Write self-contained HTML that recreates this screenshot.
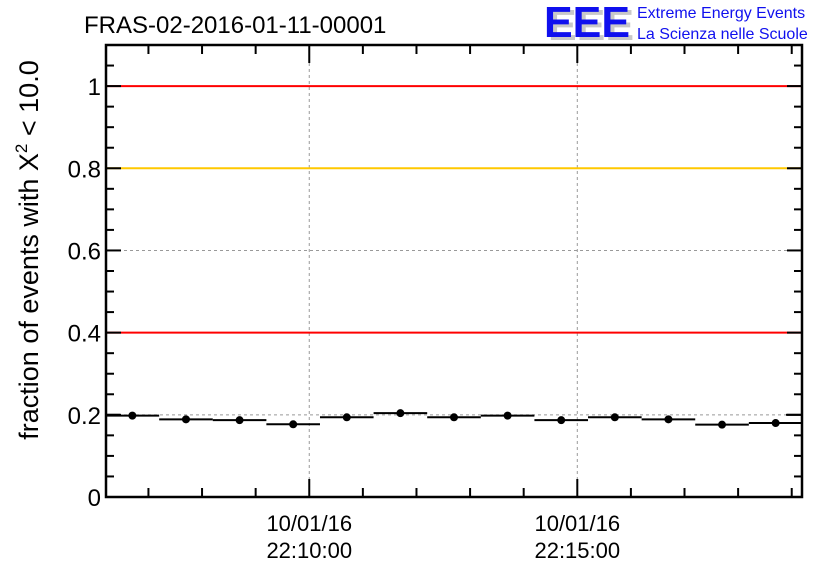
<!DOCTYPE html>
<html><head><meta charset="utf-8"><style>
body{margin:0;background:#fff;}
svg{display:block;font-family:"Liberation Sans",sans-serif;}
</style></head><body>
<svg id="chart" width="836" height="572" viewBox="0 0 836 572" xmlns="http://www.w3.org/2000/svg">
<text x="84" y="33" font-size="24" fill="#000">FRAS-02-2016-01-11-00001</text>
<g>
<text x="548" y="40" font-size="44" font-weight="bold" fill="#c8c8c8" textLength="86" lengthAdjust="spacingAndGlyphs">EEE</text>
<text x="544" y="37" font-size="44" font-weight="bold" fill="#1010ee" textLength="86" lengthAdjust="spacingAndGlyphs">EEE</text>
<text x="637" y="18" font-size="16" fill="#1010ee">Extreme Energy Events</text>
<text x="637" y="39" font-size="16" fill="#1010ee">La Scienza nelle Scuole</text>
</g>
<text transform="translate(38,250) rotate(-90)" text-anchor="middle" font-size="27" fill="#000">fraction of events with X<tspan font-size="17" dy="-11">2</tspan><tspan dy="11"> &lt; 10.0</tspan></text>
<g id="plot"></g>
</svg>
<script>
const binCentersSec = [-198,-138,-78,-18,42,102,162,222,282,342,402,462,522];
const fractions = [0.198,0.189,0.187,0.177,0.194,0.204,0.194,0.198,0.187,0.194,0.189,0.176,0.180];
const errors = [0.005,0.005,0.005,0.005,0.005,0.005,0.005,0.005,0.005,0.005,0.005,0.005,0.005];
const yTickLabels = ["0","0.2","0.4","0.6","0.8","1"];
const yTickValues = [0,0.2,0.4,0.6,0.8,1];
const xMajorSec = [0,300];
const xMajorLabels = [["10/01/16","22:10:00"],["10/01/16","22:15:00"]];
const refLines = [{v:1,c:"#ff0000"},{v:0.8,c:"#ffc800"},{v:0.4,c:"#ff0000"}];

const L=106,R=802,T=45,B=497;
const xMin=-227.5,xMax=551.5,yMin=0,yMax=1.1;
const xs=s=>L+(s-xMin)/(xMax-xMin)*(R-L);
const ys=v=>B-(v-yMin)/(yMax-yMin)*(B-T);
const NS="http://www.w3.org/2000/svg";
const g=document.getElementById('plot');
function el(t,a,p){const e=document.createElementNS(NS,t);for(const k in a)e.setAttribute(k,a[k]);(p||g).appendChild(e);return e;}

for(const s of xMajorSec){
  const l=el('line',{x1:xs(s),x2:xs(s),y1:T,y2:B,stroke:'#999','stroke-dasharray':'3,3','stroke-width':1});
  
  
}
for(const v of [0.2,0.6]){
  const l=el('line',{x1:L,x2:R,y1:ys(v),y2:ys(v),stroke:'#999','stroke-dasharray':'3,3','stroke-width':1});
  
  
}
for(const r of refLines){
  const l=el('line',{x1:L,x2:R,y1:ys(r.v),y2:ys(r.v),stroke:r.c,'stroke-width':2});
  
  
}
for(let i=0;i<fractions.length;i++){
  const c=binCentersSec[i],v=fractions[i];
  const x1=Math.max(L,xs(c-30)),x2=Math.min(R,xs(c+30));
  const seg=el('line',{x1:x1,x2:x2,y1:ys(v),y2:ys(v),stroke:'#000','stroke-width':2});
  
  
  const eb=el('line',{x1:xs(c),x2:xs(c),y1:ys(v-errors[i]),y2:ys(v+errors[i]),stroke:'#000','stroke-width':2});
  
  
  const p=el('circle',{cx:xs(c),cy:ys(v),r:4,fill:'#000'});
  
  
}
const e1=el('line',{x1:L,x2:L+14,y1:ys(0.2),y2:ys(0.2),stroke:'#000','stroke-width':2});


const e2=el('line',{x1:R-16,x2:R,y1:ys(0.2),y2:ys(0.2),stroke:'#000','stroke-width':2});


const fr=el('rect',{x:L,y:T,width:R-L,height:B-T,fill:'none',stroke:'#000','stroke-width':2.5});


for(let k=0;k<=22;k++){
  const v=k*0.05,major=(k%4===0),len=major?15:8;
  el('line',{x1:L,x2:L+len,y1:ys(v),y2:ys(v),stroke:'#000','stroke-width':2});
  el('line',{x1:R,x2:R-len,y1:ys(v),y2:ys(v),stroke:'#000','stroke-width':2});
}
for(let i=0;i<yTickValues.length;i++){
  const t=el('text',{x:L-5,y:ys(yTickValues[i])+9,'text-anchor':'end','font-size':24,fill:'#000'});
  t.textContent=yTickLabels[i];
  
  
}
for(let s=-180;s<=540;s+=60){
  const major=(s%300===0),len=major?18:9;
  el('line',{x1:xs(s),x2:xs(s),y1:B,y2:B-len,stroke:'#000','stroke-width':2});
  el('line',{x1:xs(s),x2:xs(s),y1:T,y2:T+len,stroke:'#000','stroke-width':2});
}
for(let i=0;i<xMajorSec.length;i++){
  for(let j=0;j<2;j++){
    const t=el('text',{x:xs(xMajorSec[i]),y:531+j*27,'text-anchor':'middle','font-size':22,fill:'#000'});
    t.textContent=xMajorLabels[i][j];
    
    
  }
}
</script>
</body></html>
